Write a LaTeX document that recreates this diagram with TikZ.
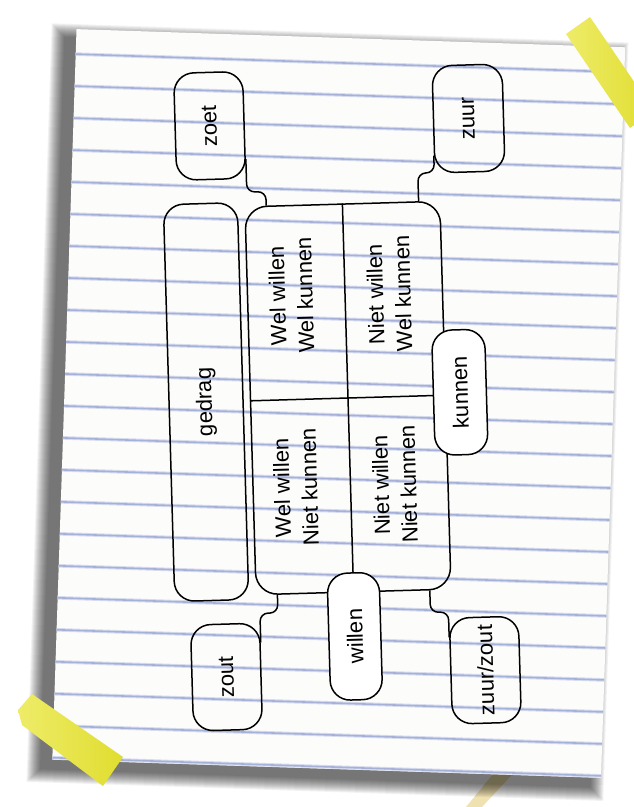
\documentclass[tikz,border=0pt]{standalone}
\usepackage{fontspec}
\setmainfont{Liberation Sans}
\usepackage{tikz}
\definecolor{lijn}{RGB}{166,177,217}
\definecolor{lijnzacht}{RGB}{216,221,238}
\definecolor{plakband}{RGB}{224,221,48}
\definecolor{plakbandlicht}{RGB}{238,236,104}
\definecolor{plakbandbeige}{RGB}{239,225,176}
\definecolor{papier}{RGB}{252,252,251}

\begin{document}
\begin{tikzpicture}[x=1pt,y=-1pt,font=\fontsize{22}{27.5}\selectfont,
  vak/.style={draw,line width=1.5pt,rounded corners=20pt,rotate=90,inner sep=0pt,align=center},
  dicht/.style={vak,fill=white},
  verbind/.style={line width=1.5pt,rounded corners=8pt},
  celtekst/.style={rotate=90,align=center,inner sep=0pt}]
\useasboundingbox (0,0) rectangle (634,807);
\clip (0,0) rectangle (634,807);
\fill[white] (0,0) rectangle (634,807);

% strookje plakband onder het blad
\fill[plakbandbeige] (521,740) -- (544,740) -- (482,807) -- (466,807) -- cycle;

% het gelinieerde blad
\begin{scope}[shift={(338.75,403.5)},rotate=-1.9]
  \foreach \i in {1,...,14}
    \fill[black,opacity=0.05] (-285.5-\i,-356.5-\i) rectangle (263.5+\i,374.5+\i);
  \fill[papier] (-274.5,-365.5) rectangle (274.5,365.5);
  \foreach \k in {0,...,22} {
    \draw[lijnzacht,line width=3.6pt] (-274.5,-340.5+32*\k) -- (274.5,-340.5+32*\k);
    \draw[lijn,line width=1.6pt] (-274.5,-340.5+32*\k) -- (274.5,-340.5+32*\k);
  }
\end{scope}

% het schema
\begin{scope}[shift={(348,398)},rotate=1.65,transform shape]
  \node[draw,line width=1.5pt,rounded corners=22pt,minimum width=195pt,minimum height=388pt] (kwadrant) at (0,0) {};
  \draw[line width=1.5pt] (kwadrant.north) -- (kwadrant.south);
  \draw[line width=1.5pt] (kwadrant.west) -- (kwadrant.east);

  \node[celtekst] (wwwk) at (-54,-104) {Wel willen\\Wel kunnen};
  \node[celtekst] (nwwk) at (44,-103) {Niet willen\\Wel kunnen};
  \node[celtekst] (wwnk) at (-55,88) {Wel willen\\Niet kunnen};
  \node[celtekst] (nwnk) at (44,88) {Niet willen\\Niet kunnen};

  \node[dicht,minimum width=125pt,minimum height=53pt] (kunnen) at (112,-2.5) {kunnen};
  \node[dicht,minimum width=127pt,minimum height=52pt] (willen) at (0,238.5) {willen};
  \node[vak,minimum width=397pt,minimum height=74pt] (gedrag) at (-142,0) {gedrag};
  \node[vak,minimum width=107pt,minimum height=69pt] (zoet) at (-130.5,-276) {zoet};
  \node[vak,minimum width=107pt,minimum height=70pt] (zuur) at (128.5,-276) {zuur};
  \node[vak,minimum width=106pt,minimum height=69pt] (zout) at (-129.5,275.5) {zout};
  \node[vak,minimum width=106pt,minimum height=69pt] (zuurzout) at (129.5,276) {zuur/zout};

  \draw[verbind] ([xshift=22pt]kwadrant.north west) -- ++(0,-14) -| ([yshift=20pt]zoet.south west);
  \draw[verbind] ([xshift=-22pt]kwadrant.north east) -- ++(0,-28) -| ([yshift=18pt]zuur.north west);
  \draw[verbind] ([xshift=22pt]kwadrant.south west) -- ++(0,18) -| ([yshift=-20pt]zout.south east);
  \draw[verbind] ([xshift=-22pt]kwadrant.south east) -- ++(0,22) -| ([yshift=-20pt]zuurzout.north east);
\end{scope}

% plakband
\shade[left color=plakbandlicht,right color=plakband] (566,34) -- (590,17) -- (654,111) -- (630,128) -- cycle;
\shade[left color=plakbandlicht,right color=plakband] (32,694) -- (123,757) -- (103,786) -- (22,725) -- (18,710) -- cycle;
\end{tikzpicture}
\end{document}
